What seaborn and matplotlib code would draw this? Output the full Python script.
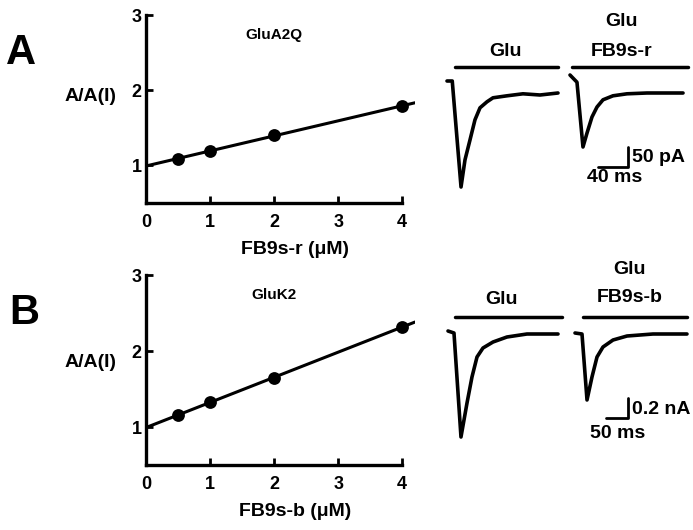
import seaborn as sns
import numpy as np
import matplotlib.pyplot as plt

sns.set_style("ticks")
plt.rcParams['font.family'] = ['Liberation Sans', 'DejaVu Sans']
plt.rcParams['font.weight'] = 'bold'
for k in ['text.color', 'axes.labelcolor', 'xtick.color', 'ytick.color', 'axes.edgecolor']:
    plt.rcParams[k] = 'black'

# ===============================
# DATOS
# ===============================

conc = [0.5, 1, 2, 4]
ratio_a = [1.09, 1.19, 1.40, 1.79]   # GluA2Q, FB9s-r
ratio_b = [1.16, 1.33, 1.64, 2.32]   # GluK2, FB9s-b

# corrientes A (ms, pA)
t_a_glu = [0, 7, 18.7, 24, 30.7, 37.3, 44, 53.3, 61.3, 80, 101.3, 124, 148]
i_a_glu = [0, 0, -265, -197, -147, -97, -67, -52, -42, -37, -32, -35, -30]
t_a_fb = [0, 6.7, 9.3, 17.3, 22.7, 29.3, 36, 44, 57.3, 76, 102.7, 150.7]
i_a_fb = [15, 2, -3, -165, -130, -90, -65, -47, -37, -32, -30, -30]

# corrientes B (ms, nA)
t_b_glu = [0, 13.6, 29.5, 43.2, 54.5, 65.9, 79.5, 102.3, 134, 179.5, 250]
i_b_glu = [0.02, 0, -1.04, -0.70, -0.44, -0.24, -0.15, -0.09, -0.04, -0.01, -0.01]
t_b_fb = [0, 15.9, 27.3, 38.6, 50, 63.6, 86.4, 118.2, 177.3, 254.5]
i_b_fb = [0, -0.01, -0.67, -0.44, -0.24, -0.14, -0.07, -0.03, -0.01, -0.01]

W, H = 693, 530
fig = plt.figure(figsize=(W / 100, H / 100), dpi=100)


def px(x0, y0, x1, y1):
    return [x0 / W, 1 - y1 / H, (x1 - x0) / W, (y1 - y0) / H]


# ===============================
# GRAFICOS DE DOSIS
# ===============================

def dosis(rect, y, xlabel, titulo, ylab_y):
    ax = fig.add_axes(rect)
    ax.set_xlim(0, 4.2)
    ax.set_ylim(0.5, 3)
    sns.regplot(x=conc, y=y, ax=ax, ci=None, truncate=False, color='black',
                scatter_kws=dict(s=85, alpha=1, linewidths=0),
                line_kws=dict(lw=2.2))
    ax.set_xlim(0, 4.2)
    ax.set_ylim(0.5, 3)
    sns.despine(ax=ax)
    ax.spines['left'].set_bounds(0.5, 3)
    ax.spines['bottom'].set_bounds(0, 4)
    for s in ['left', 'bottom']:
        ax.spines[s].set_linewidth(2.4)
    ax.set_xticks([0, 1, 2, 3, 4])
    ax.set_yticks([1, 2, 3])
    ax.tick_params(axis='x', direction='in', length=5, width=2, pad=8, labelsize=13)
    ax.tick_params(axis='y', direction='in', length=5, width=2, pad=3, labelsize=13)
    for lab in ax.get_xticklabels() + ax.get_yticklabels():
        lab.set_fontweight('bold')
    ax.set_xlabel(xlabel, fontsize=14, fontweight='bold', va='top')
    ax.xaxis.set_label_coords(0.554, -0.2)
    ax.set_ylabel("A/A(I)", fontsize=14, fontweight='bold', rotation=0,
                  ha='center', va='center')
    ax.yaxis.set_label_coords(-0.208, ylab_y)
    ax.text(0.475, 0.895, titulo, transform=ax.transAxes,
            ha='center', va='center', fontsize=11, fontweight='bold')
    return ax


dosis(px(146, 15, 415, 203), ratio_a, "FB9s-r (μM)", "GluA2Q", 0.564)
dosis(px(146, 275, 415, 465), ratio_b, "FB9s-b (μM)", "GluK2", 0.542)

fig.text(21 / W, 1 - 53 / H, "A", fontsize=30, fontweight='bold', ha='center', va='center')
fig.text(24 / W, 1 - 313 / H, "B", fontsize=30, fontweight='bold', ha='center', va='center')

# ===============================
# TRAZOS DE CORRIENTE
# ===============================

# panel A: 0.75 px/ms, 0.4 px/pA, t=0 en x=447, I=0 en y=81
axa = fig.add_axes(px(440, 55, 693, 200))
axa.set_xlim((440 - 447) / 0.75, (693 - 447) / 0.75)
axa.set_ylim(-(200 - 81) / 0.4, (81 - 55) / 0.4)
axa.axis('off')
off_a = (570 - 447) / 0.75
sns.lineplot(x=t_a_glu, y=i_a_glu, ax=axa, color='black', lw=2.6, sort=False)
sns.lineplot(x=np.array(t_a_fb) + off_a, y=i_a_fb, ax=axa, color='black', lw=2.6, sort=False)
axa.plot([10.7, 148], [35, 35], color='black', lw=2.5)
axa.plot([166.7, 321.3], [35, 35], color='black', lw=2.5)
cx, cy = (628 - 447) / 0.75, -(167 - 81) / 0.4
axa.plot([cx - 40, cx, cx], [cy, cy, cy + 50], color='black', lw=2, clip_on=False)

fig.text(505 / W, 1 - 51 / H, "Glu", fontsize=14, fontweight='bold', ha='center', va='center')
fig.text(622 / W, 1 - 22 / H, "Glu", fontsize=14, fontweight='bold', ha='center', va='center')
fig.text(622 / W, 1 - 51 / H, "FB9s-r", fontsize=14, fontweight='bold', ha='center', va='center')
fig.text(632 / W, 1 - 157 / H, "50 pA", fontsize=14, fontweight='bold', ha='left', va='center')
fig.text(615 / W, 1 - 178 / H, "40 ms", fontsize=14, fontweight='bold', ha='center', va='center')

# panel B: 0.44 px/ms, 100 px/nA, t=0 en x=448, I=0 en y=333
axb = fig.add_axes(px(440, 310, 693, 445))
axb.set_xlim((440 - 448) / 0.44, (693 - 448) / 0.44)
axb.set_ylim(-(445 - 333) / 100, (333 - 310) / 100)
axb.axis('off')
off_b = (575 - 448) / 0.44
sns.lineplot(x=t_b_glu, y=i_b_glu, ax=axb, color='black', lw=2.6, sort=False)
sns.lineplot(x=np.array(t_b_fb) + off_b, y=i_b_fb, ax=axb, color='black', lw=2.6, sort=False)
axb.plot([15.9, 259], [0.16, 0.16], color='black', lw=2.5)
axb.plot([306.8, 543], [0.16, 0.16], color='black', lw=2.5)
cx, cy = (628 - 448) / 0.44, -(418 - 333) / 100
axb.plot([cx - 50, cx, cx], [cy, cy, cy + 0.2], color='black', lw=2, clip_on=False)

fig.text(502 / W, 1 - 300 / H, "Glu", fontsize=14, fontweight='bold', ha='center', va='center')
fig.text(630 / W, 1 - 270 / H, "Glu", fontsize=14, fontweight='bold', ha='center', va='center')
fig.text(630 / W, 1 - 298 / H, "FB9s-b", fontsize=14, fontweight='bold', ha='center', va='center')
fig.text(632 / W, 1 - 410 / H, "0.2 nA", fontsize=14, fontweight='bold', ha='left', va='center')
fig.text(618 / W, 1 - 433 / H, "50 ms", fontsize=14, fontweight='bold', ha='center', va='center')

plt.savefig("out.png", dpi=100)
